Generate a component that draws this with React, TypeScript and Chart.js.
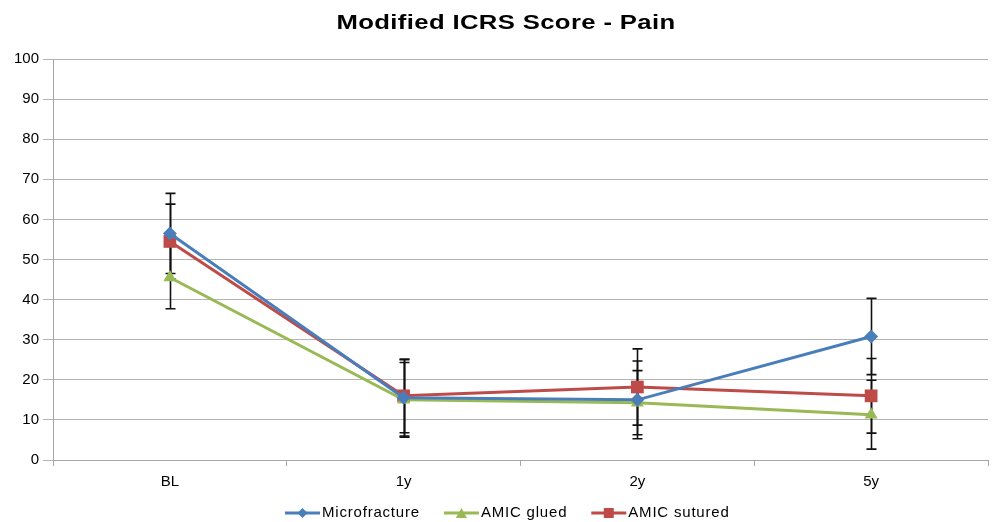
import React, { useEffect, useRef } from "react";
import { Chart, registerables } from "chart.js";

Chart.register(...registerables);

const chartTitle = "Modified ICRS Score - Pain";
const categories = ["BL", "1y", "2y", "5y"];
const seriesNames = ["Microfracture", "AMIC glued", "AMIC sutured"];
const microfracture = [56.5, 15.5, 15.0, 30.8];
const amicGlued = [45.5, 15.0, 14.3, 11.3];
const amicSutured = [54.5, 16.0, 18.2, 16.0];
const microfractureErr = [10.0, 9.5, 9.7, 9.5];
const amicGluedErr = [7.8, 9.3, 8.0, 8.6];
const amicSuturedErr = [9.3, 9.2, 9.5, 9.3];
const yTicks = [0, 10, 20, 30, 40, 50, 60, 70, 80, 90, 100];

const colors = ["#4a7ebb", "#98b954", "#be4b48"];
const pointStyles = ["rectRot", "triangle", "rect"];
const pointRadii = [7, 7.5, 9];
const FONT = "Liberation Sans, Arial, sans-serif";

function drawMarker(ctx: CanvasRenderingContext2D, style: string, cx: number, cy: number, color: string) {
  ctx.fillStyle = color;
  ctx.beginPath();
  if (style === "rectRot") {
    ctx.moveTo(cx, cy - 5);
    ctx.lineTo(cx + 5, cy);
    ctx.lineTo(cx, cy + 5);
    ctx.lineTo(cx - 5, cy);
  } else if (style === "triangle") {
    ctx.moveTo(cx, cy - 5);
    ctx.lineTo(cx + 5.5, cy + 5);
    ctx.lineTo(cx - 5.5, cy + 5);
  } else {
    ctx.rect(cx - 5, cy - 5, 10, 10);
  }
  ctx.closePath();
  ctx.fill();
}

const spacingPlugin = {
  id: "spacing",
  beforeInit(chart: any) {
    chart.ctx.letterSpacing = "0.7px";
  },
};

const titleLegendPlugin = {
  id: "titleLegend",
  afterDraw(chart: any) {
    const ctx = chart.ctx as CanvasRenderingContext2D;
    // title
    ctx.save();
    (ctx as any).letterSpacing = "0.3px";
    ctx.font = `bold 21px ${FONT}`;
    ctx.fillStyle = "#000000";
    ctx.textAlign = "center";
    ctx.textBaseline = "middle";
    const sx = 339 / ctx.measureText(chartTitle).width;
    ctx.translate(506, 23);
    ctx.scale(sx, 1);
    ctx.fillText(chartTitle, 0, 0);
    ctx.restore();

    // legend
    ctx.save();
    (ctx as any).letterSpacing = "0.8px";
    ctx.font = `15px ${FONT}`;
    ctx.textAlign = "left";
    ctx.textBaseline = "middle";
    let x = 285;
    const y = 513;
    seriesNames.forEach((name, i) => {
      ctx.strokeStyle = colors[i];
      ctx.lineWidth = 3;
      ctx.beginPath();
      ctx.moveTo(x, y);
      ctx.lineTo(x + 35, y);
      ctx.stroke();
      drawMarker(ctx, pointStyles[i], x + 17.5, y, colors[i]);
      ctx.fillStyle = "#000000";
      ctx.fillText(name, x + 37, y);
      x += 37 + ctx.measureText(name).width + 24;
    });
    ctx.restore();
  },
};

const errorBarPlugin = {
  id: "errorBars",
  beforeDatasetsDraw(chart: any) {
    const ctx = chart.ctx;
    const yScale = chart.scales.y;
    ctx.save();
    ctx.strokeStyle = "#111111";
    ctx.lineWidth = 1.6;
    chart.data.datasets.forEach((ds: any, i: number) => {
      const meta = chart.getDatasetMeta(i);
      meta.data.forEach((pt: any, j: number) => {
        const v = ds.data[j];
        const e = ds.errors[j];
        const x = Math.round(pt.x) + 0.5;
        const yTop = yScale.getPixelForValue(v + e);
        const yBot = yScale.getPixelForValue(v - e);
        ctx.beginPath();
        ctx.moveTo(x, yTop);
        ctx.lineTo(x, yBot);
        ctx.moveTo(x - 5, yTop);
        ctx.lineTo(x + 5, yTop);
        ctx.moveTo(x - 5, yBot);
        ctx.lineTo(x + 5, yBot);
        ctx.stroke();
      });
    });
    ctx.restore();
  },
};

export default function App() {
  const ref = useRef<HTMLCanvasElement>(null);
  useEffect(() => {
    const values = [microfracture, amicGlued, amicSutured];
    const errs = [microfractureErr, amicGluedErr, amicSuturedErr];
    const chart = new Chart(ref.current!, {
      type: "line",
      data: {
        labels: categories,
        datasets: seriesNames.map((name, i) => ({
          label: name,
          data: values[i],
          errors: errs[i],
          borderColor: colors[i],
          backgroundColor: colors[i],
          borderWidth: 3,
          pointStyle: pointStyles[i],
          pointRadius: pointRadii[i],
          pointBorderWidth: 0,
          pointBackgroundColor: colors[i],
          tension: 0,
          clip: false,
        })) as any,
      },
      options: {
        animation: false,
        responsive: false,
        layout: { autoPadding: false, padding: { left: 10, right: 4, top: 59, bottom: 24 } },
        plugins: {
          title: { display: false },
          legend: { display: false },
          tooltip: { enabled: false },
        },
        scales: {
          x: {
            offset: true,
            grid: {
              offset: true,
              drawOnChartArea: false,
              drawTicks: true,
              tickLength: 6,
              color: "#a6a6a6",
              lineWidth: 1,
            },
            border: { color: "#a6a6a6", width: 1 },
            ticks: {
              color: "#000000",
              font: { family: FONT, size: 15 },
              padding: 7,
            },
          },
          y: {
            min: 0,
            max: 100,
            afterBuildTicks: (axis: any) => {
              axis.ticks = yTicks.map((v) => ({ value: v }));
            },
            grid: {
              color: "#b4b4b4",
              lineWidth: 1,
              tickLength: 10,
            },
            border: { color: "#a6a6a6", width: 1 },
            ticks: {
              color: "#000000",
              font: { family: FONT, size: 15 },
              padding: 4,
            },
          },
        },
      },
      plugins: [spacingPlugin, errorBarPlugin, titleLegendPlugin],
    });
    return () => chart.destroy();
  }, []);
  return (
    <div style={{ position: "fixed", left: 0, top: 0, width: 992, height: 522, overflow: "hidden", background: "#ffffff" }}>
      <canvas ref={ref} width={992} height={522} style={{ width: 992, height: 522, display: "block" }} />
    </div>
  );
}
